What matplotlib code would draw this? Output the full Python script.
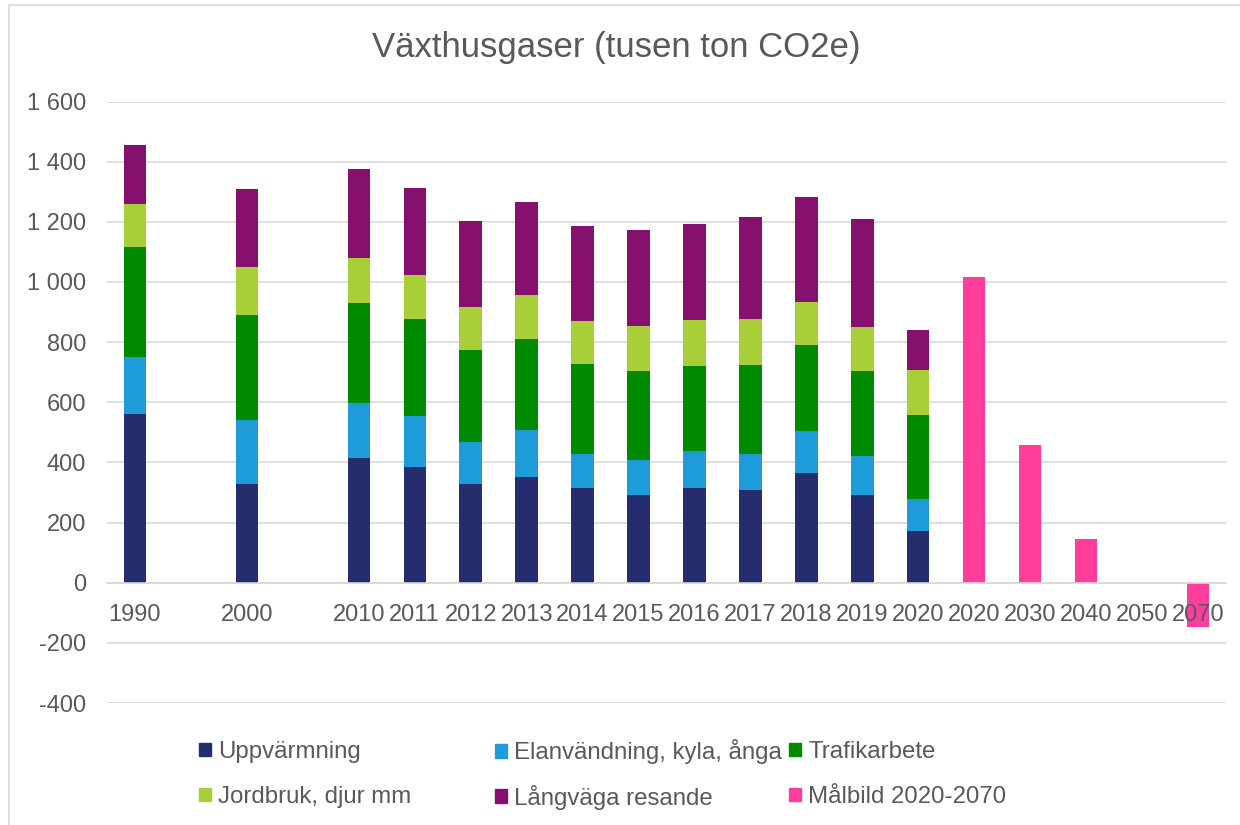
import numpy as np
import matplotlib
matplotlib.use("Agg")
import matplotlib.pyplot as plt
from matplotlib.patches import Patch, Rectangle
from matplotlib.ticker import FuncFormatter, MultipleLocator

plt.rcParams['font.family'] = ['Liberation Sans', 'DejaVu Sans']

# ---------------- data (tusen ton CO2e) ----------------
categories = ['1990', '', '2000', '', '2010', '2011', '2012', '2013', '2014', '2015',
              '2016', '2017', '2018', '2019', '2020', '2020', '2030', '2040', '2050', '2070']

uppvarmning = [561, None, 329, None, 416, 386, 327, 352, 315, 292, 316, 309, 366, 293, 171,
               None, None, None, None, None]
elanvandning = [189, None, 211, None, 183, 168, 141, 156, 113, 117, 121, 118, 138, 128, 107,
                None, None, None, None, None]
trafikarbete = [366, None, 351, None, 330, 322, 306, 301, 299, 295, 285, 297, 285, 284, 280,
                None, None, None, None, None]
jordbruk = [142, None, 158, None, 151, 146, 143, 149, 144, 151, 150, 152, 145, 146, 148,
            None, None, None, None, None]
langvaga = [197, None, 259, None, 296, 290, 287, 309, 314, 318, 321, 340, 350, 357, 135,
            None, None, None, None, None]
malbild = [None] * 15 + [1017, 458, 144, 0, -146]

series_labels = ['Uppvärmning', 'Elanvändning, kyla, ånga', 'Trafikarbete',
                 'Jordbruk, djur mm', 'Långväga resande', 'Målbild 2020-2070']
series_colors = ['#252D6E', '#1E9CD9', '#008A00', '#A9CF38', '#86106E', '#FF3D9C']

TEXT = '#595959'
GRID = '#D9D9D9'


def clean(vals):
    return np.array([np.nan if v is None else v for v in vals], dtype=float)


fig = plt.figure(figsize=(12.4, 8.25), dpi=100)
ax = fig.add_axes([107 / 1240, 122 / 825, 1119 / 1240, 601.5 / 825])

x = np.arange(len(categories))
stack = [uppvarmning, elanvandning, trafikarbete, jordbruk, langvaga]
bottom = np.zeros(len(categories))
handles = []
for vals, lab, col in zip(stack, series_labels[:5], series_colors[:5]):
    v = np.nan_to_num(clean(vals))
    ax.bar(x, v, width=0.4, bottom=bottom, color=col, zorder=2)
    bottom += v
    handles.append(Patch(color=col, label=lab))
ax.bar(x, np.nan_to_num(clean(malbild)), width=0.4, color=series_colors[5], zorder=2)
handles.append(Patch(color=series_colors[5], label=series_labels[5]))

# axes styling
ax.set_xlim(-0.5, len(categories) - 0.5)
ax.set_ylim(-400, 1600)
ax.yaxis.set_major_locator(MultipleLocator(200))
ax.yaxis.set_major_formatter(FuncFormatter(lambda v, p: f"{v:,.0f}".replace(',', ' ')))
ax.set_axisbelow(True)
ax.grid(axis='y', color=GRID, linewidth=1.2)
ax.xaxis.set_zorder(3)
for s in ['top', 'right', 'left']:
    ax.spines[s].set_visible(False)
ax.spines['bottom'].set_position(('data', 0))
ax.spines['bottom'].set_color(GRID)
ax.spines['bottom'].set_linewidth(1.2)
ax.set_xticks(x, categories)
ax.tick_params(axis='x', length=0, pad=15, labelsize=17, labelcolor=TEXT)
ax.tick_params(axis='y', length=0, pad=15, labelsize=17, labelcolor=TEXT)

fig.text(616 / 1240, 1 - 47 / 825, 'Växthusgaser (tusen ton CO2e)', ha='center', va='center',
         fontsize=25, color=TEXT)

# legend: 3 columns x 2 rows, filled row by row like the original
col_x = [199, 495, 789]
row_y = [752, 797]
for i, (h, lab) in enumerate(zip(handles, series_labels)):
    cx, cy = col_x[i % 3], row_y[i // 3]
    fig.legend([h], [lab], loc='center left', bbox_to_anchor=(cx / 1240, 1 - cy / 825),
               frameon=False, fontsize=17.3, labelcolor=TEXT, handlelength=0.5,
               handleheight=0.5, handletextpad=0.3, borderpad=0, borderaxespad=0)

# outer chart border (cut off at right and bottom)
fig.add_artist(Rectangle((9 / 1240, -0.1), 1.2, 1.1 - 5 / 825, transform=fig.transFigure,
                         fill=False, edgecolor=GRID, linewidth=1.2))

fig.savefig('out.png', dpi=100)
